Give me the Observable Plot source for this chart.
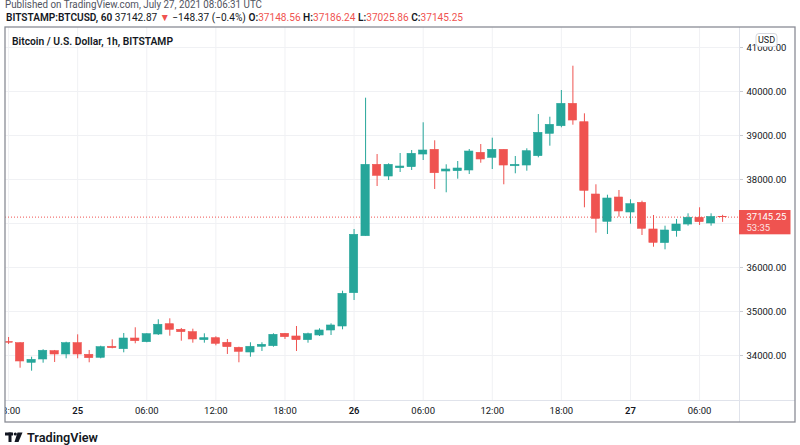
<!DOCTYPE html>
<html><head><meta charset="utf-8">
<script src="https://cdn.jsdelivr.net/npm/d3@7"></script>
<script src="https://cdn.jsdelivr.net/npm/@observablehq/plot@0.6"></script>
<style>
html,body{margin:0;padding:0;background:#fff;}
#chart{position:relative;width:800px;height:445px;overflow:hidden;}
</style></head><body><div id="chart"></div>
<script>
// ---- data (hourly candles, BITSTAMP:BTCUSD) ----
const times = [
"2021-07-24T18:00Z","2021-07-24T19:00Z","2021-07-24T20:00Z","2021-07-24T21:00Z","2021-07-24T22:00Z","2021-07-24T23:00Z",
"2021-07-25T00:00Z","2021-07-25T01:00Z","2021-07-25T02:00Z","2021-07-25T03:00Z","2021-07-25T04:00Z","2021-07-25T05:00Z",
"2021-07-25T06:00Z","2021-07-25T07:00Z","2021-07-25T08:00Z","2021-07-25T09:00Z","2021-07-25T10:00Z","2021-07-25T11:00Z",
"2021-07-25T12:00Z","2021-07-25T13:00Z","2021-07-25T14:00Z","2021-07-25T15:00Z","2021-07-25T16:00Z","2021-07-25T17:00Z",
"2021-07-25T18:00Z","2021-07-25T19:00Z","2021-07-25T20:00Z","2021-07-25T21:00Z","2021-07-25T22:00Z","2021-07-25T23:00Z",
"2021-07-26T00:00Z","2021-07-26T01:00Z","2021-07-26T02:00Z","2021-07-26T03:00Z","2021-07-26T04:00Z","2021-07-26T05:00Z",
"2021-07-26T06:00Z","2021-07-26T07:00Z","2021-07-26T08:00Z","2021-07-26T09:00Z","2021-07-26T10:00Z","2021-07-26T11:00Z",
"2021-07-26T12:00Z","2021-07-26T13:00Z","2021-07-26T14:00Z","2021-07-26T15:00Z","2021-07-26T16:00Z","2021-07-26T17:00Z",
"2021-07-26T18:00Z","2021-07-26T19:00Z","2021-07-26T20:00Z","2021-07-26T21:00Z","2021-07-26T22:00Z","2021-07-26T23:00Z",
"2021-07-27T00:00Z","2021-07-27T01:00Z","2021-07-27T02:00Z","2021-07-27T03:00Z","2021-07-27T04:00Z","2021-07-27T05:00Z",
"2021-07-27T06:00Z","2021-07-27T07:00Z","2021-07-27T08:00Z"];
const open  = [34305,34280,33834,33909,34098,34023, 34280,34016,33948,34198,34143,34386, 34302,34477,34711,34584,34530,34348,
               34393,34289,34175,34068,34198,34211, 34493,34432,34348,34455,34568,34659, 35416,36711,38334,38068,38257,38280,
               38568,38675,38182,38189,38205,38607, 38493,38675,38302,38318,38530,39039, 39211,39720,39302,37659,37039,37591,
               37250,37470,36864,36555,36825,36977, 37130,37000,37148.56];
const high  = [34409,34290,33961,34130,34114,34302, 34470,34114,34211,34357,34500,34630, 34493,34811,34834,34614,34598,34493,
               34425,34364,34189,34289,34289,34493, 34500,34659,34507,34607,34720,35461, 36864,39848,38568,38357,38591,38659,
               39289,38880,38334,38409,38682,38795, 38939,38675,38523,38698,39477,39416, 40023,40575,39493,37880,37643,37750,
               37539,37507,37182,36939,37091,37220, 37357,37220,37186.24];
const low   = [34250,33711,33643,33825,33841,33925, 33925,33834,33925,34152,34061,34266, 34289,34455,34439,34325,34280,34280,
               34220,34023,33834,33961,34091,34189, 34364,34091,34280,34432,34455,34584, 35250,36711,37841,37977,38159,38205,
               38432,37773,37698,38007,38114,38370, 38227,37880,38130,38189,38493,38757, 39175,39234,37357,36780,36750,37143,
               36984,36727,36461,36402,36689,36939, 36955,36939,37025.86];
const close = [34290,33864,33902,34107,34023,34280, 34023,33939,34189,34166,34386,34325, 34484,34698,34584,34530,34364,34393,
               34266,34189,34084,34198,34243,34470, 34416,34348,34484,34568,34682,35402, 36743,38334,38084,38334,38295,38584,
               38659,38143,38227,38250,38636,38455, 38675,38318,38334,38643,39061,39243, 39720,39341,37743,37107,37568,37273,
               37439,36880,36561,36841,36977,37130, 37030,37148,37142.87];
const priceTicks = [34000,35000,36000,37000,38000,39000,40000,41000];
const hourTicks = ["2021-07-24T18:00Z","2021-07-25T06:00Z","2021-07-25T12:00Z","2021-07-25T18:00Z",
                   "2021-07-26T06:00Z","2021-07-26T12:00Z","2021-07-26T18:00Z","2021-07-27T06:00Z"];
const dayTicks = ["2021-07-25T00:00Z","2021-07-26T00:00Z","2021-07-27T00:00Z"];
const xDomain = ["2021-07-24T17:44Z","2021-07-27T09:28Z"];
const yDomain = [32977, 41455];
const lastPrice = 37145.25;
const countdown = "53:35";
const headerLine1 = "Published on TradingView.com, July 27, 2021 08:06:31 UTC";
const symbolText = "BITSTAMP:BTCUSD, 60";
const lastText = "37142.87";
const changeText = "\u2212148.37 (\u22120.4%)";
const ohlcLabels = ["O:","H:","L:","C:"];
const ohlcValues = ["37148.56","37186.24","37025.86","37145.25"];
const titleText = "Bitcoin / U.S. Dollar, 1h, BITSTAMP";
const currencyText = "USD";
const brandText = "TradingView";

// ---- build ----
const GREEN = "#26a69a", RED = "#ef5350";
const HOUR = 3600e3;
const candles = times.map((t, i) => {
  const d = new Date(t);
  return {t: d, t1: new Date(+d - 0.36 * HOUR), t2: new Date(+d + 0.36 * HOUR),
          o: open[i], h: high[i], l: low[i], c: close[i],
          col: close[i] >= open[i] ? GREEN : RED};
});
const hourDates = hourTicks.map(s => new Date(s));
const dayDates = dayTicks.map(s => new Date(s));
const allX = hourDates.concat(dayDates).sort((a, b) => a - b);
// the price-axis labels hidden behind the last-price tag are not drawn
const yPerUnit = (445 - 45 - 27) / (yDomain[1] - yDomain[0]);
const axisTicks = priceTicks.filter(p => Math.abs(p - lastPrice) * yPerUnit > 14);

const plot = Plot.plot({
  width: 800, height: 445,
  marginTop: 27, marginBottom: 45, marginLeft: 5, marginRight: 61,
  style: {fontFamily: "Roboto, sans-serif", fontSize: "9.5px", color: "#131722", background: "#fff"},
  x: {type: "utc", domain: xDomain.map(s => new Date(s)), label: null},
  y: {domain: yDomain, label: null},
  color: {type: "identity"},
  marks: [
    Plot.gridX({ticks: allX, stroke: "#f0f1f4", strokeOpacity: 1}),
    Plot.gridY({ticks: priceTicks, stroke: "#f0f1f4", strokeOpacity: 1}),
    Plot.ruleY([lastPrice], {stroke: RED, strokeDasharray: "1,2", strokeWidth: 1}),
    Plot.ruleX(candles, {x: "t", y1: "l", y2: "h", stroke: "col", strokeWidth: 1}),
    Plot.rect(candles, {x1: "t1", x2: "t2", y1: "o", y2: "c", fill: "col", stroke: "col", strokeWidth: 0.6}),
    Plot.axisY({ticks: axisTicks, anchor: "right", tickFormat: d => d.toFixed(2), tickSize: 3, tickPadding: 4,
                stroke: "#c9cbd1", fill: "#131722", fontSize: 9.5}),
    Plot.axisX({ticks: hourDates, tickFormat: d3.utcFormat("%H:%M"), tickSize: 0, tickPadding: 7,
                fill: "#131722", fontSize: 9.5}),
    Plot.axisX({ticks: dayDates, tickFormat: d => String(d.getUTCDate()), tickSize: 0, tickPadding: 7,
                fill: "#131722", fontSize: 9.5, fontWeight: 600})
  ]
});
document.getElementById("chart").appendChild(plot);

const svg = d3.select(plot);
const y = plot.scale("y");
const ff = "Roboto, sans-serif";
const txt = (sel) => sel.append("text").attr("text-anchor", "start").attr("font-family", ff);

// left gutter, separators, border
svg.append("rect").attr("x", 0).attr("y", 22).attr("width", 5).attr("height", 423).attr("fill", "#fff");
svg.append("line").attr("x1", 739.5).attr("x2", 739.5).attr("y1", 27).attr("y2", 422).attr("stroke", "#e0e3eb");
svg.append("line").attr("x1", 5).attr("x2", 795).attr("y1", 400.5).attr("y2", 400.5).attr("stroke", "#e0e3eb");
svg.append("rect").attr("x", 5).attr("y", 27).attr("width", 790).attr("height", 395)
  .attr("fill", "none").attr("stroke", "#8a8d96").attr("stroke-width", 1.3);

// last price label
const yp = y.apply(lastPrice);
svg.append("rect").attr("x", 739).attr("y", yp - 6.6).attr("width", 51.5).attr("height", 24.3).attr("fill", RED);
txt(svg).attr("x", 746.5).attr("y", yp + 3.3).attr("fill", "#fff").attr("font-size", 9.5).text(lastPrice.toFixed(2));
txt(svg).attr("x", 746.5).attr("y", yp + 14.8).attr("fill", "#fde3e3").attr("font-size", 9.5).text(countdown);

// USD box
svg.append("rect").attr("x", 756).attr("y", 33.5).attr("width", 21).attr("height", 13).attr("rx", 3)
  .attr("fill", "#fff").attr("stroke", "#d6d8de");
svg.append("text").attr("x", 766.5).attr("y", 43.3).attr("text-anchor", "middle").attr("font-family", ff)
  .attr("font-size", 9).attr("fill", "#131722").text(currencyText);

// title inside chart
txt(svg).attr("x", 12).attr("y", 45).attr("font-weight", 600)
  .attr("font-size", 10).attr("fill", "#131722").attr("textLength", 161).attr("lengthAdjust", "spacingAndGlyphs")
  .text(titleText);

// header
txt(svg).attr("x", 5).attr("y", 8).attr("font-size", 10).attr("fill", "#50535e")
  .attr("textLength", 257).attr("lengthAdjust", "spacingAndGlyphs").text(headerLine1);
const h2 = txt(svg).attr("x", 6).attr("y", 20.5).attr("font-size", 10.5)
  .attr("fill", "#131722").attr("textLength", 457).attr("lengthAdjust", "spacingAndGlyphs");
h2.append("tspan").attr("font-weight", 600).text(symbolText + " ");
h2.append("tspan").text(lastText + " ");
h2.append("tspan").attr("fill", RED).text("\u25BC ");
h2.append("tspan").text(changeText + " ");
ohlcLabels.forEach((lab, i) => {
  h2.append("tspan").attr("font-weight", 600).text(lab);
  h2.append("tspan").attr("fill", RED).text(ohlcValues[i] + (i < 3 ? " " : ""));
});

// footer brand
const g = svg.append("g").attr("fill", "#131722");
g.append("rect").attr("x", 5).attr("y", 432.5).attr("width", 8).attr("height", 3);
g.append("rect").attr("x", 8.5).attr("y", 432.5).attr("width", 3).attr("height", 9.5);
g.append("circle").attr("cx", 15.3).attr("cy", 434).attr("r", 1.6);
g.append("path").attr("d", "M17.5,432.5 L22.5,432.5 L18.5,442 L14.5,442 Z");
txt(svg).attr("x", 27).attr("y", 442).attr("font-weight", 600)
  .attr("font-size", 13).attr("fill", "#131722").attr("textLength", 71).attr("lengthAdjust", "spacingAndGlyphs")
  .text(brandText);
</script></body></html>
